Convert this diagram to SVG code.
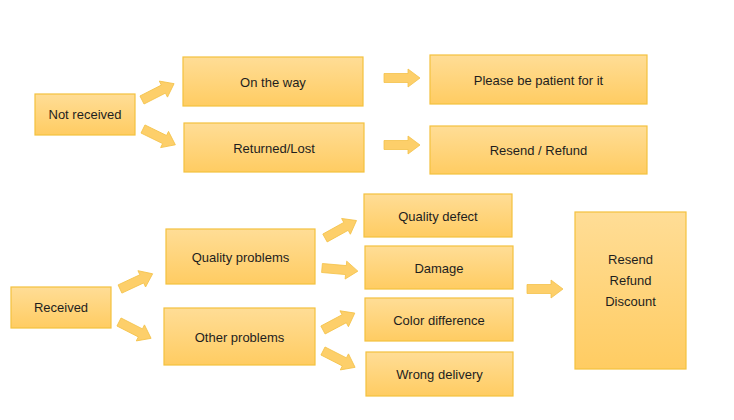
<svg xmlns="http://www.w3.org/2000/svg" xmlns:xlink="http://www.w3.org/1999/xlink" width="734" height="420" viewBox="0 0 734 420">
<defs>
<linearGradient id="g" x1="0" y1="0" x2="0" y2="1">
<stop offset="0" stop-color="#FFDD96"/>
<stop offset="1" stop-color="#FFCC62"/>
</linearGradient>
<path id="arr" d="M0,-4.5 L24,-4.5 L24,-9 L36,0 L24,9 L24,4.5 L0,4.5 Z"/>
</defs>
<style>
.box{fill:url(#g);stroke:#F4C13E;stroke-width:1.2}
.arrows use{fill:#FDCF6A;stroke:#F4C24A;stroke-width:0.8}
text{font-family:"Liberation Sans",Arial,sans-serif;font-size:13px;fill:#1E1E1E;text-anchor:middle;dominant-baseline:central}
</style>
<rect width="734" height="420" fill="#FFFFFF"/>
<g id="connectors" class="arrows">
<use xlink:href="#arr" transform="translate(142,100) rotate(-27)"/>
<use xlink:href="#arr" transform="translate(143,129) rotate(26)"/>
<use xlink:href="#arr" transform="translate(384,78)"/>
<use xlink:href="#arr" transform="translate(384,145)"/>
<use xlink:href="#arr" transform="translate(120,289) rotate(-25)"/>
<use xlink:href="#arr" transform="translate(119,322) rotate(27)"/>
<use xlink:href="#arr" transform="translate(325,238) rotate(-29)"/>
<use xlink:href="#arr" transform="translate(322,268) rotate(5)"/>
<use xlink:href="#arr" transform="translate(323,330) rotate(-28)"/>
<use xlink:href="#arr" transform="translate(323,351) rotate(27)"/>
<use xlink:href="#arr" transform="translate(527,289)"/>
</g>
<g id="not-received"><rect class="box" x="35" y="94" width="100" height="41"/><text x="85" y="114.5">Not received</text></g>
<g id="on-the-way"><rect class="box" x="183" y="57" width="180" height="49"/><text x="273" y="82">On the way</text></g>
<g id="returned-lost"><rect class="box" x="184" y="123" width="180" height="49"/><text x="274" y="148">Returned/Lost</text></g>
<g id="patient"><rect class="box" x="430" y="55" width="217" height="49"/><text x="538.5" y="80">Please be patient for it</text></g>
<g id="resend-refund"><rect class="box" x="430" y="126" width="217" height="48"/><text x="538.5" y="150">Resend / Refund</text></g>
<g id="received"><rect class="box" x="11" y="287" width="100" height="41"/><text x="61" y="307.5">Received</text></g>
<g id="quality-problems"><rect class="box" x="166" y="229" width="149" height="55"/><text x="240.5" y="257">Quality problems</text></g>
<g id="other-problems"><rect class="box" x="164" y="308" width="151" height="57"/><text x="239.5" y="337">Other problems</text></g>
<g id="quality-defect"><rect class="box" x="364" y="194" width="148" height="43"/><text x="438" y="216">Quality defect</text></g>
<g id="damage"><rect class="box" x="365" y="246" width="148" height="43"/><text x="439" y="268">Damage</text></g>
<g id="color-difference"><rect class="box" x="365" y="298" width="148" height="43"/><text x="439" y="320">Color difference</text></g>
<g id="wrong-delivery"><rect class="box" x="366" y="352" width="147" height="44"/><text x="439.5" y="374.5">Wrong delivery</text></g>
<g id="resolution"><rect class="box" x="575" y="212" width="111" height="157"/><text x="630.5" y="259">Resend</text><text x="630.5" y="280">Refund</text><text x="630.5" y="301">Discount</text></g>
</svg>
